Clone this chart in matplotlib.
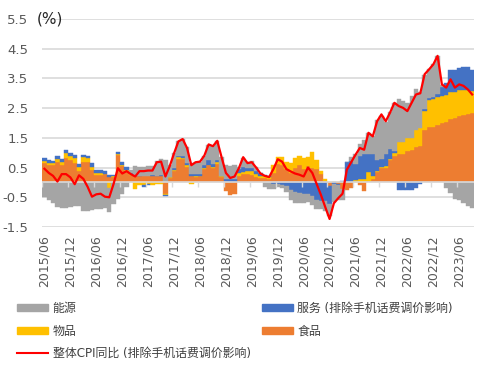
import matplotlib
matplotlib.use('Agg')
import matplotlib.pyplot as plt
import numpy as np
import pandas as pd
from matplotlib.patches import Patch
from matplotlib.lines import Line2D

plt.rcParams['font.family'] = ['DejaVu Sans', 'Noto Sans CJK SC']

months = [p.strftime('%Y/%m') for p in pd.period_range('2015-06', '2023-09', freq='M')]
tick_labels = ['2015/06', '2015/12', '2016/06', '2016/12', '2017/06', '2017/12',
               '2018/06', '2018/12', '2019/06', '2019/12', '2020/06', '2020/12',
               '2021/06', '2021/12', '2022/06', '2022/12', '2023/06']

food = [
    0.66, 0.60, 0.58, 0.70, 0.60, 0.82, 0.75, 0.65, 0.40, 0.68,
    0.68, 0.42, 0.24, 0.26, 0.27, 0.18, 0.18, 0.92, 0.55, 0.40,
    0.25, 0.22, 0.20, 0.20, 0.22, 0.22, 0.20, 0.22, -0.38, 0.15,
    0.40, 0.80, 0.78, 0.52, 0.20, 0.18, 0.20, 0.45, 0.58, 0.48,
    0.62, 0.18, -0.30, -0.42, -0.38, 0.20, 0.30, 0.28, 0.25, 0.18,
    0.15, 0.15, 0.12, 0.32, 0.62, 0.58, 0.45, 0.32, 0.48, 0.58,
    0.45, 0.55, 0.50, 0.45, 0.28, 0.05, -0.12, 0.00, -0.05, -0.22,
    -0.25, -0.20, 0.02, -0.10, -0.30, 0.05, 0.10, 0.35, 0.50, 0.50,
    0.75, 0.88, 0.95, 0.97, 1.05, 1.10, 1.18, 1.22, 1.75, 1.85,
    1.88, 1.92, 2.00, 2.05, 2.15, 2.18, 2.22, 2.27, 2.30, 2.33]

goods = [
    0.07, 0.07, 0.06, 0.10, 0.08, 0.16, 0.14, 0.18, 0.13, 0.17,
    0.15, 0.10, 0.07, 0.06, 0.03, -0.20, 0.02, 0.03, 0.05, 0.03,
    0.03, -0.22, -0.08, -0.10, -0.05, -0.08, -0.05, -0.06, -0.04, 0.02,
    0.03, 0.05, 0.05, 0.06, -0.05, 0.02, 0.02, 0.02, 0.02, 0.05,
    0.06, 0.02, 0.02, 0.03, 0.03, 0.12, 0.05, 0.10, 0.12, 0.10,
    0.08, 0.05, 0.05, 0.25, 0.22, 0.28, 0.25, 0.32, 0.35, 0.32,
    0.38, 0.30, 0.52, 0.30, 0.10, 0.05, 0.02, 0.02, 0.03, 0.02,
    0.00, 0.02, 0.05, 0.10, 0.12, 0.30, 0.10, 0.02, 0.03, 0.05,
    0.05, 0.10, 0.40, 0.40, 0.45, 0.40, 0.60, 0.62, 0.65, 0.93,
    0.93, 0.95, 0.90, 0.88, 0.90, 0.88, 0.88, 0.83, 0.80, 0.75]

services = [
    0.10, 0.10, 0.09, 0.10, 0.10, 0.12, 0.10, 0.08, 0.08, 0.08,
    0.06, 0.12, 0.12, 0.10, 0.10, 0.06, 0.05, 0.07, 0.08, 0.08,
    0.05, 0.03, 0.03, -0.04, -0.05, 0.02, 0.02, 0.02, -0.03, 0.02,
    0.05, 0.05, 0.05, 0.08, 0.10, 0.10, 0.07, 0.10, 0.17, 0.10,
    0.06, 0.03, 0.08, 0.10, 0.10, 0.12, 0.18, 0.10, 0.12, 0.10,
    0.08, 0.06, 0.04, -0.05, -0.05, -0.08, -0.12, -0.25, -0.32, -0.35,
    -0.38, -0.40, -0.45, -0.58, -0.62, -0.62, -0.62, -0.05, -0.05, 0.03,
    0.70, 0.70, 0.55, 0.80, 0.85, 0.62, 0.75, 0.38, 0.27, 0.42,
    0.34, 0.08, -0.25, -0.25, -0.25, -0.25, -0.18, -0.05, 0.08, 0.05,
    0.05, 0.10, 0.32, 0.40, 0.72, 0.72, 0.75, 0.80, 0.80, 0.72]

energy = [
    -0.50, -0.60, -0.70, -0.82, -0.85, -0.85, -0.82, -0.80, -0.80, -0.97,
    -0.97, -0.93, -0.90, -0.88, -0.85, -0.78, -0.72, -0.55, -0.40, -0.15,
    0.10, 0.30, 0.30, 0.33, 0.32, 0.30, 0.50, 0.55, 0.75, 0.40,
    0.50, 0.48, 0.58, 0.52, 0.35, 0.38, 0.40, 0.33, 0.50, 0.58,
    0.66, 0.62, 0.50, 0.42, 0.45, 0.08, 0.30, 0.20, 0.22, 0.15,
    0.02, -0.15, -0.22, -0.18, -0.10, -0.12, -0.20, -0.35, -0.38, -0.35,
    -0.30, -0.25, -0.30, -0.30, -0.28, -0.33, -0.38, -0.62, -0.50, -0.38,
    0.00, 0.15, 0.35, 0.40, 0.45, 0.70, 0.62, 1.35, 1.45, 1.08,
    1.22, 1.62, 1.45, 1.38, 1.17, 1.42, 1.35, 1.20, 1.15, 0.98,
    1.12, 1.28, 0.05, -0.20, -0.35, -0.55, -0.60, -0.68, -0.78, -0.85]

cpi = [
    0.46, 0.32, 0.22, 0.03, 0.28, 0.28, 0.17, -0.06, 0.24, 0.12,
    -0.15, -0.48, -0.40, -0.38, -0.48, -0.50, -0.05, 0.48, 0.30, 0.38,
    0.28, 0.20, 0.38, 0.38, 0.40, 0.40, 0.68, 0.70, 0.20, 0.55,
    0.98, 1.38, 1.46, 1.16, 0.58, 0.68, 0.70, 0.90, 1.28, 1.22,
    1.40, 0.85, 0.32, 0.15, 0.20, 0.48, 0.85, 0.65, 0.68, 0.50,
    0.30, 0.22, 0.18, 0.45, 0.78, 0.70, 0.45, 0.37, 0.30, 0.26,
    0.20, 0.50, 0.32, -0.05, -0.42, -0.83, -1.23, -0.70, -0.53, -0.38,
    0.43, 0.68, 0.93, 1.16, 1.10, 1.67, 1.55, 2.06, 2.29, 2.06,
    2.35, 2.68, 2.57, 2.51, 2.40, 2.68, 2.96, 3.00, 3.64, 3.80,
    3.97, 4.26, 3.30, 3.19, 3.47, 3.19, 3.30, 3.25, 3.13, 2.96]

names = {'energy': '能源', 'services': '服务 (排除手机话费调价影响)',
         'goods': '物品', 'food': '食品', 'cpi': '整体CPI同比 (排除手机话费调价影响)'}
colors = {'energy': '#A5A5A5', 'services': '#4472C4', 'goods': '#FFC000',
          'food': '#ED7D31', 'cpi': '#FF0000'}

W, H = 497, 366
fig = plt.figure(figsize=(W / 100, H / 100), dpi=100)
ax = fig.add_axes([42.3 / W, 1 - 227 / H, 432 / W, 208 / H])

n = len(months)
x = np.arange(n)
pos = np.zeros(n)
neg = np.zeros(n)
for key, vals in [('food', food), ('goods', goods), ('services', services), ('energy', energy)]:
    v = np.array(vals)
    b = np.where(v >= 0, pos, neg)
    ax.bar(x, v, width=1.0, bottom=b, color=colors[key], edgecolor=colors[key],
           linewidth=0.3, zorder=2)
    pos += np.clip(v, 0, None)
    neg += np.clip(v, None, 0)

ax.plot(x, cpi, color=colors['cpi'], lw=1.6, zorder=5)

ax.set_xlim(-0.5, n - 0.5)
ax.set_ylim(-1.5, 5.5)
ax.set_yticks(np.arange(-1.5, 5.6, 1.0))
ax.set_yticklabels([f'{v:.1f}' for v in np.arange(-1.5, 5.6, 1.0)])
ax.yaxis.grid(True, color='#d9d9d9', lw=1.2)
ax.set_axisbelow(True)
ax.axhline(0, color='#d9d9d9', lw=1.2, zorder=3)
for s in ax.spines.values():
    s.set_visible(False)

idx = [months.index(t) for t in tick_labels]
ax.vlines(np.array(idx) - 0.5, -0.15, 0, color='#d9d9d9', lw=1.0, zorder=3)
ax.set_xticks(idx)
ax.set_xticklabels(tick_labels, rotation=90, color='#595959', fontsize=9)
ax.tick_params(axis='x', length=0, pad=6)
ax.tick_params(axis='y', length=0, pad=10, labelcolor='#595959', labelsize=9.5)

fig.text(37 / W, 1 - 19 / H, '(%)', fontsize=11, va='center', ha='left', color='#262626')

handles = [Patch(color=colors['energy'], label=names['energy']),
           Patch(color=colors['goods'], label=names['goods']),
           Line2D([0], [0], color=colors['cpi'], lw=1.5, label=names['cpi']),
           Patch(color=colors['services'], label=names['services']),
           Patch(color=colors['food'], label=names['food'])]
leg = fig.legend(handles=handles, ncol=2, loc='upper left',
                 bbox_to_anchor=(17 / W, 1 - 302 / H), frameon=False,
                 fontsize=8.6, handlelength=2.6, handleheight=0.5,
                 handletextpad=0.4, columnspacing=0.9, labelspacing=0.8,
                 borderpad=0, borderaxespad=0)
for t in leg.get_texts():
    t.set_color('#404040')

fig.savefig('out.png', dpi=100)
